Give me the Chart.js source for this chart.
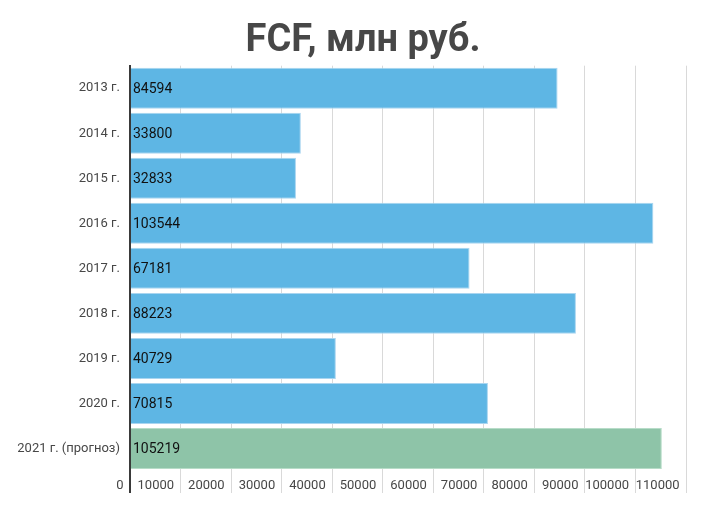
<!DOCTYPE html>
<html>
<head>
<meta charset="utf-8">
<script src="https://cdn.jsdelivr.net/npm/chart.js@4/dist/chart.umd.min.js"></script>
<style>
  html, body { margin: 0; padding: 0; background: #fff; }
  #wrap { width: 726px; height: 517px; }
</style>
</head>
<body>
<div id="wrap"><canvas id="fcfChart"></canvas></div>
<script>
'use strict';

const years = ['2013 г.', '2014 г.', '2015 г.', '2016 г.', '2017 г.', '2018 г.', '2019 г.', '2020 г.', '2021 г. (прогноз)'];
const fcfValues = [84594, 33800, 32833, 103544, 67181, 88223, 40729, 70815, 105219];
const forecastFlags = [false, false, false, false, false, false, false, false, true];
const xTicks = [0, 10000, 20000, 30000, 40000, 50000, 60000, 70000, 80000, 90000, 100000, 110000];

const COLORS = {
  fact:     '#5eb6e4',
  factEdge: '#a9d5f0',
  plan:     '#8ec4a8',
  planEdge: '#b7dcc8',
  grid:     '#d9d9d9',
  axis:     '#3a3a3a',
  text:     '#474747',
};

// value labels drawn inside the bars, at the left edge
const barLabels = {
  id: 'barLabels',
  afterDatasetsDraw(chart) {
    const { ctx } = chart;
    const meta = chart.getDatasetMeta(0);
    ctx.save();
    ctx.font = '14px Roboto';
    ctx.fillStyle = '#111';
    ctx.textAlign = 'left';
    ctx.textBaseline = 'middle';
    meta.data.forEach((bar, i) => {
      ctx.fillText(String(fcfValues[i]), chart.chartArea.left + 3, bar.y + 1);
    });
    ctx.restore();
  }
};

new Chart(document.getElementById('fcfChart'), {
  type: 'bar',
  data: {
    labels: years,
    datasets: [{
      data: fcfValues,
      backgroundColor: forecastFlags.map(f => f ? COLORS.plan : COLORS.fact),
      borderColor: forecastFlags.map(f => f ? COLORS.planEdge : COLORS.factEdge),
      borderWidth: 1,
      barPercentage: 0.91,
      categoryPercentage: 1,
    }],
  },
  options: {
    indexAxis: 'y',
    responsive: true,
    maintainAspectRatio: false,
    animation: false,
    layout: { padding: 0 },
    plugins: {
      legend: { display: false },
      tooltip: { enabled: false },
      title: {
        display: true,
        text: 'FCF, млн руб.',
        color: COLORS.text,
        font: { family: 'Roboto', size: 38, weight: 'bold', lineHeight: 1.15 },
        padding: { top: 20, bottom: 2 },
      },
    },
    scales: {
      x: {
        min: 0,
        max: 110000,
        afterBuildTicks: s => { s.ticks = xTicks.map(v => ({ value: v })); },
        afterFit: s => { s.height = 46; },
        border: { display: false },
        grid: {
          color: c => c.tick && c.tick.value === 0 ? COLORS.axis : COLORS.grid,
          lineWidth: c => c.tick && c.tick.value === 0 ? 2 : 1,
          tickLength: 22,
        },
        ticks: {
          align: 'end',
          padding: -15,
          maxRotation: 0,
          minRotation: 0,
          autoSkip: false,
          color: COLORS.text,
          font: { family: 'Roboto', size: 13 },
          callback: v => String(v) + '  ',
        },
      },
      y: {
        afterFit: s => { s.width = 130; },
        border: { display: true, color: COLORS.axis, width: 2 },
        grid: { display: false, drawTicks: false },
        ticks: {
          padding: 10,
          color: COLORS.text,
          font: { family: 'Roboto', size: 13 },
        },
      },
      // empty right-hand spacer so the title stays centred on the full width
      yRight: {
        position: 'right',
        afterFit: s => { s.width = 40; },
        border: { display: false },
        grid: { display: false, drawTicks: false },
        ticks: { display: false },
      },
    },
  },
  plugins: [barLabels],
});
</script>
</body>
</html>
